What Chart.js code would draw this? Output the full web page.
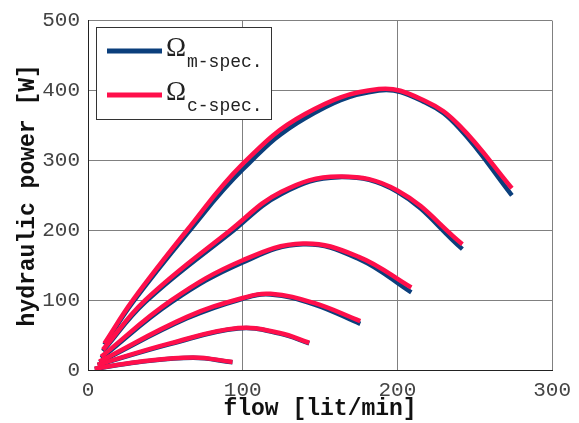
<!DOCTYPE html>
<html>
<head>
<meta charset="utf-8">
<title>hydraulic power vs flow</title>
<script src="https://cdn.jsdelivr.net/npm/chart.js@4.4.1/dist/chart.umd.min.js"></script>
<style>
    html, body { margin: 0; padding: 0; background: white; }
    #wrap { position: relative; width: 579px; height: 423px; }
</style>
</head>
<body>
<div id="wrap"><canvas id="myChart" width="579" height="423"></canvas></div>
<script>
// flow [lit/min] for each curve (one curve per speed)
var flow1 = [10.6, 29, 64, 100, 140, 188, 218, 240, 274];
var flow2 = [9.6, 37, 92, 125, 162, 200, 242];
var flow3 = [8.5, 54, 100, 139, 175, 209];
var flow4 = [7.3, 64, 100, 118, 146, 176];
var flow5 = [6.2, 53, 97, 124, 143];
var flow6 = [4.3, 32, 68, 93.4];

// hydraulic power [W], m-spec. (blue)
var powerM1 = [36, 97, 195, 287, 360, 400, 383, 346, 250];
var powerM2 = [27, 97, 196, 252, 276, 255, 173];
var powerM3 = [17, 97, 154, 180, 159, 111];
var powerM4 = [11, 74, 102, 108, 94, 66];
var powerM5 = [7, 37, 59.5, 52, 38];
var powerM6 = [1.5, 11, 17.5, 11];

// hydraulic power [W], c-spec. (red)
var powerC1 = [38, 100, 200, 295, 366, 402, 385, 350, 260];
var powerC2 = [29, 100, 200, 255, 277, 257, 180];
var powerC3 = [19, 100, 157, 181, 162, 118];
var powerC4 = [12, 76, 103, 109, 96, 70];
var powerC5 = [7.5, 38, 60, 53, 39];
var powerC6 = [2, 11.5, 18, 11.5];

var xTicks = [0, 100, 200, 300];
var yTicks = [0, 100, 200, 300, 400, 500];
var legendLabels = ['m-spec.', 'c-spec.'];

var BLUE = '#0b3f7c';
var RED = '#ff0f4b';

function to_points(xs, ys) {
    var pts = [];
    for (let i = 0; i < xs.length; i++) {
        pts.push({ x: xs[i], y: ys[i] });
    }
    return pts;
}

function make_dataset(xs, ys, color, order) {
    return {
        data: to_points(xs, ys),
        borderColor: color,
        borderWidth: 4.5,
        pointRadius: 0,
        showLine: true,
        fill: false,
        tension: 0.4,
        order: order
    };
}

var flows = [flow1, flow2, flow3, flow4, flow5, flow6];
var powersM = [powerM1, powerM2, powerM3, powerM4, powerM5, powerM6];
var powersC = [powerC1, powerC2, powerC3, powerC4, powerC5, powerC6];

var datasets = [];
for (let i = 0; i < flows.length; i++) {
    datasets.push(make_dataset(flows[i], powersC[i], RED, 0));
    datasets.push(make_dataset(flows[i], powersM[i], BLUE, 1));
}

// legend with subscripts drawn on top of the plot
var omegaLegend = {
    id: 'omegaLegend',
    afterDraw: function (chart) {
        var ctx = chart.ctx;
        ctx.save();
        ctx.fillStyle = 'white';
        ctx.fillRect(96, 27, 175, 92);
        ctx.strokeStyle = '#333';
        ctx.lineWidth = 1;
        ctx.strokeRect(96.5, 27.5, 175, 92);
        var colors = [BLUE, RED];
        var rows = [51, 95];
        for (let i = 0; i < 2; i++) {
            ctx.strokeStyle = colors[i];
            ctx.lineWidth = 5;
            ctx.beginPath();
            ctx.moveTo(107, rows[i]);
            ctx.lineTo(162, rows[i]);
            ctx.stroke();
            ctx.fillStyle = '#222';
            ctx.textBaseline = 'alphabetic';
            ctx.font = '27px "Liberation Serif"';
            ctx.fillText('\u03A9', 166, rows[i] + 5);
            ctx.font = '18px "Liberation Mono"';
            ctx.fillText(legendLabels[i], 187, rows[i] + 16);
        }
        ctx.restore();
    }
};

var ctx = document.getElementById('myChart');
var chart = new Chart(ctx, {
    type: 'scatter',
    data: { datasets: datasets },
    options: {
        responsive: false,
        animation: false,
        layout: { padding: { top: 18, right: 20, left: 0, bottom: 0 } },
        scales: {
            x: {
                type: 'linear',
                min: 0,
                max: 300,
                afterBuildTicks: function (s) { s.ticks = xTicks.map(function (v) { return { value: v }; }); },
                afterFit: function (s) { s.height = 53; },
                grid: { color: '#808080', lineWidth: 1, drawTicks: false },
                border: { color: '#222', width: 1 },
                ticks: {
                    padding: 8,
                    color: '#444',
                    font: { family: '"Liberation Mono"', size: 21 }
                },
                title: {
                    display: true,
                    text: 'flow [lit/min]',
                    color: '#111',
                    padding: { top: 0, bottom: 0 },
                    font: { family: '"Liberation Mono"', size: 23, weight: 'bold' }
                }
            },
            y: {
                type: 'linear',
                min: 0,
                max: 500,
                afterBuildTicks: function (s) { s.ticks = yTicks.map(function (v) { return { value: v }; }); },
                afterFit: function (s) { s.width = 88; },
                grid: { color: '#808080', lineWidth: 1, drawTicks: false },
                border: { color: '#222', width: 1 },
                ticks: {
                    padding: 8,
                    color: '#444',
                    font: { family: '"Liberation Mono"', size: 21 }
                },
                title: {
                    display: true,
                    text: 'hydraulic power [W]',
                    color: '#111',
                    padding: { top: 14, bottom: 0 },
                    font: { family: '"Liberation Mono"', size: 23, weight: 'bold' }
                }
            }
        },
        plugins: {
            legend: { display: false },
            tooltip: { enabled: false }
        }
    },
    plugins: [omegaLegend]
});
</script>
</body>
</html>
